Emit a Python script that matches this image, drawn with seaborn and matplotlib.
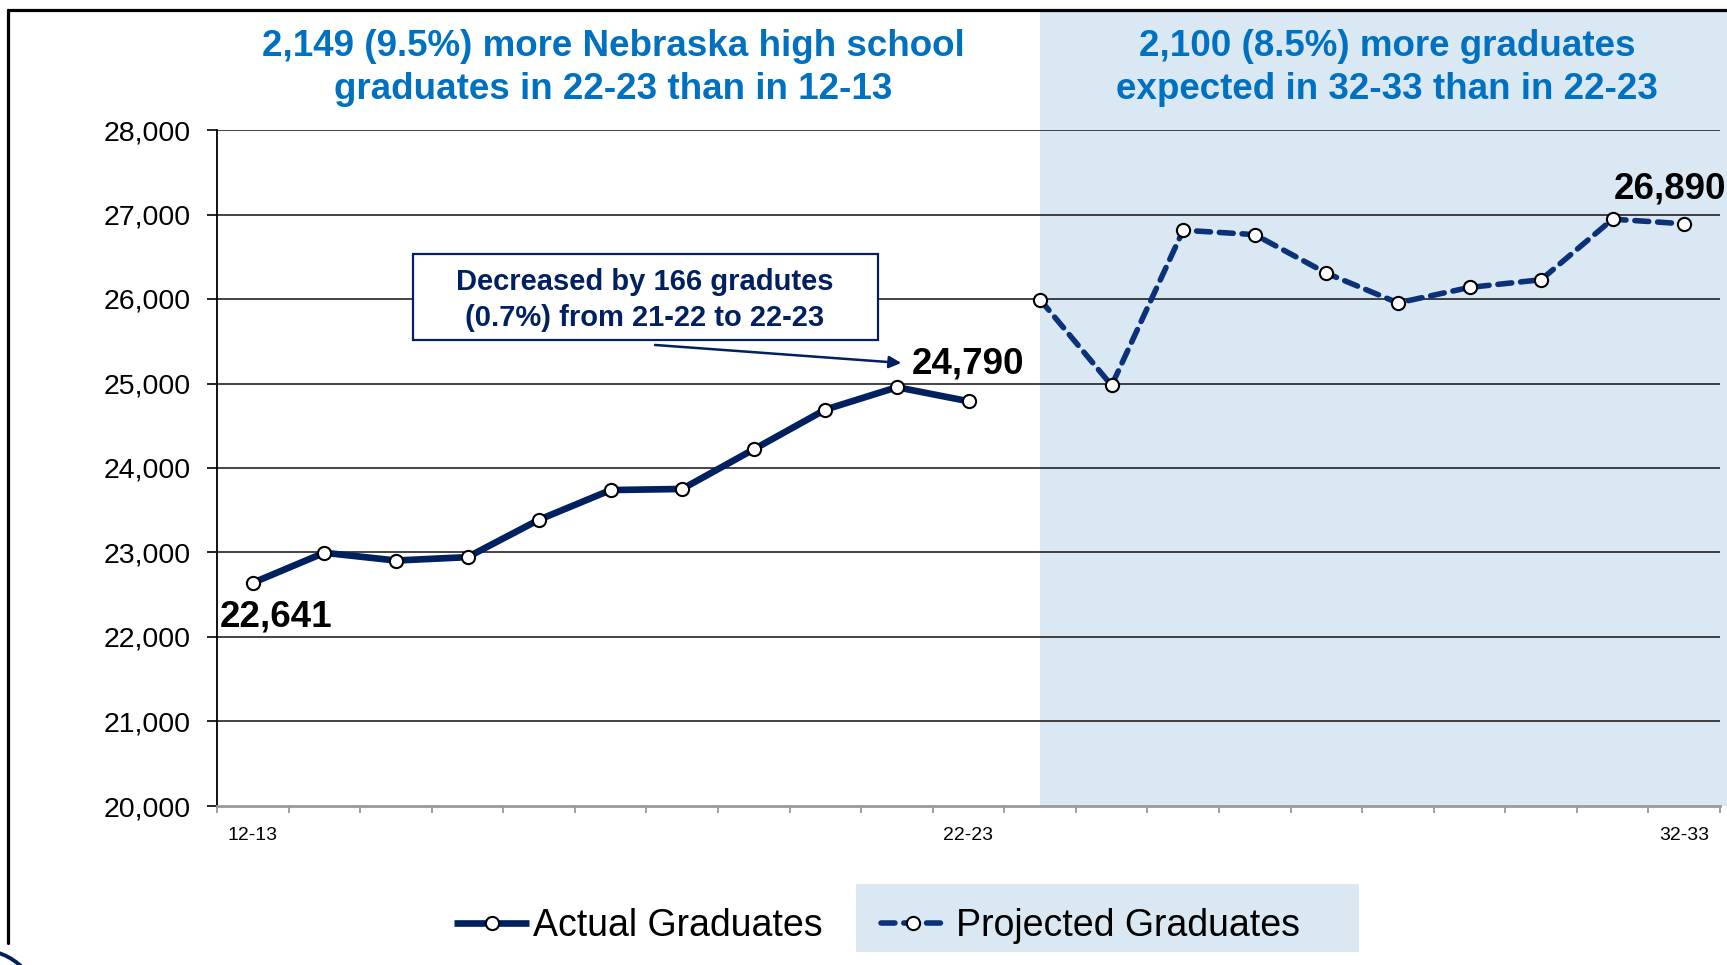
import numpy as np
import pandas as pd
import matplotlib
matplotlib.use("Agg")
import matplotlib.pyplot as plt
from matplotlib.patches import Rectangle, Ellipse
from matplotlib.lines import Line2D
import seaborn as sns

# ---------------- data ----------------
seasons = ["12-13", "13-14", "14-15", "15-16", "16-17", "17-18", "18-19", "19-20",
           "20-21", "21-22", "22-23", "23-24", "24-25", "25-26", "26-27", "27-28",
           "28-29", "29-30", "30-31", "31-32", "32-33"]
actual_grads = [22641, 22997, 22905, 22945, 23388, 23739, 23752, 24221, 24691, 24956, 24790]
projected_grads = [25993, 24977, 26814, 26762, 26306, 25954, 26137, 26228, 26945, 26890]
shown_ticks = ["12-13", "22-23", "32-33"]
y_ticks = [20000, 21000, 22000, 23000, 24000, 25000, 26000, 27000, 28000]

W, H = 1727, 965
NAVY = "#002060"
PNAVY = "#0B3279"
SHADE = "#DAE8F3"
TBLUE = "#0070C0"

sns.set_style("white")
plt.rcParams["font.family"] = ["Liberation Sans", "DejaVu Sans"]
plt.rcParams["text.color"] = "black"
plt.rcParams["xtick.labelcolor"] = "black"
plt.rcParams["ytick.labelcolor"] = "black"
plt.rcParams["legend.labelcolor"] = "black"

fig = plt.figure(figsize=(W / 100, H / 100), dpi=100)
fig.patch.set_facecolor("white")
ax = fig.add_axes([217 / W, 1 - 806 / H, (1720 - 217) / W, (806 - 130) / H])
ax.set_facecolor("none")

df_a = pd.DataFrame({"x": np.arange(len(actual_grads)), "y": actual_grads})
df_p = pd.DataFrame({"x": np.arange(len(actual_grads), len(actual_grads) + len(projected_grads)),
                     "y": projected_grads})

sns.lineplot(data=df_a, x="x", y="y", ax=ax, color=NAVY, lw=4.8, marker="o",
             markersize=9.5, markerfacecolor="white", markeredgecolor="black",
             markeredgewidth=1.5, label="Actual Graduates", legend=False,
             solid_capstyle="butt", zorder=5)
sns.lineplot(data=df_p, x="x", y="y", ax=ax, color=PNAVY, lw=4.0, marker="o",
             markersize=9.5, markerfacecolor="white", markeredgecolor="black",
             markeredgewidth=1.5, linestyle=(0, (2.5, 1.6)), label="Projected Graduates",
             legend=False, dash_capstyle="round", zorder=5)

ax.set_xlim(-0.5, len(seasons) - 0.5)
ax.set_ylim(20000, 28000)
ax.set_xlabel("")
ax.set_ylabel("")

# y axis
ax.set_yticks(y_ticks)
ax.set_yticklabels([f"{v:,}" for v in y_ticks], fontsize=20.5, color="black")
ax.tick_params(axis="y", direction="out", length=7, width=1.2, color="black", pad=12, left=True)
for v in y_ticks[1:]:
    ax.axhline(v, color="#111111", lw=1.1, zorder=1)

# x axis
major_pos = [seasons.index(s) for s in shown_ticks]
ax.set_xticks(major_pos)
ax.set_xticklabels(shown_ticks, fontsize=14, color="black")
ax.set_xticks(np.arange(-0.5, len(seasons), 1.0), minor=True)
ax.tick_params(axis="x", which="major", length=0, pad=15)
ax.tick_params(axis="x", which="minor", direction="out", length=5, width=1.3, color="#9a9a9a", bottom=True)

for s in ["top", "right"]:
    ax.spines[s].set_visible(False)
ax.spines["left"].set_color("black")
ax.spines["left"].set_linewidth(1.3)
ax.spines["bottom"].set_color("#9a9a9a")
ax.spines["bottom"].set_linewidth(2.0)
ax.grid(False)

# shaded projection region (extends above the axes to the top border)
fig.canvas.draw()
x0_fig = fig.transFigure.inverted().transform(ax.transData.transform((len(actual_grads), 20000)))
fig.patches.append(Rectangle((x0_fig[0], x0_fig[1]), 1 - x0_fig[0], (1 - 12 / H) - x0_fig[1],
                             transform=fig.transFigure, facecolor=SHADE, edgecolor="none", zorder=-2))

# outer border lines and logo arc
fig.lines.append(Line2D([8 / W, 1], [1 - 10 / H, 1 - 10 / H], transform=fig.transFigure,
                        color="black", lw=2.3, zorder=3))
fig.lines.append(Line2D([8 / W, 8 / W], [1 - 10 / H, 1 - 943 / H], transform=fig.transFigure,
                        color="black", lw=2.3, zorder=3))
fig.patches.append(Ellipse((-20 / W, 1 - 1010 / H), 120 / W, 120 / H, transform=fig.transFigure,
                           facecolor="none", edgecolor=NAVY, lw=2.8, zorder=3))

# headline texts
fig.text(613 / W, 1 - 68 / H, "2,149 (9.5%) more Nebraska high school\ngraduates in 22-23 than in 12-13",
         ha="center", va="center", fontsize=26.5, fontweight="bold", color=TBLUE, linespacing=1.33)
fig.text(1387 / W, 1 - 68 / H, "2,100 (8.5%) more graduates\nexpected in 32-33 than in 22-23",
         ha="center", va="center", fontsize=26.5, fontweight="bold", color=TBLUE, linespacing=1.33)

# value labels
ax.text(-0.46, 22237, f"{actual_grads[0]:,}", ha="left", va="center", fontsize=26.5,
        fontweight="bold", color="black")
ax.text(9.21, 25225, f"{actual_grads[-1]:,}", ha="left", va="center", fontsize=26.5,
        fontweight="bold", color="black")
ax.text(19.02, 27305, f"{projected_grads[-1]:,}", ha="left", va="center", fontsize=26.5,
        fontweight="bold", color="black", clip_on=False)

# annotation box with arrow
fig.patches.append(Rectangle((413 / W, 1 - 340 / H), (878 - 413) / W, (340 - 254) / H,
                             transform=fig.transFigure, facecolor="white", edgecolor=NAVY,
                             lw=1.6, zorder=4))
fig.text(645 / W, 1 - 300 / H, "Decreased by 166 gradutes\n(0.7%) from 21-22 to 22-23",
         ha="center", va="center", fontsize=21, fontweight="bold", color=NAVY,
         linespacing=1.4, zorder=5)
ax.annotate("", xy=(9.06, 25243), xytext=(5.62, 25456),
            arrowprops=dict(arrowstyle="-|>", color=NAVY, lw=1.8, mutation_scale=18,
                            shrinkA=0, shrinkB=0), zorder=6)

# legend
fig.patches.append(Rectangle((856 / W, 1 - 952 / H), (1359 - 856) / W, (952 - 884) / H,
                             transform=fig.transFigure, facecolor=SHADE, edgecolor="none", zorder=-1))
lines = ax.get_lines()
h_act = [l for l in lines if l.get_label() == "Actual Graduates"]
h_proj = [l for l in lines if l.get_label() == "Projected Graduates"]
leg1 = fig.legend(handles=h_act, loc="center left", bbox_to_anchor=(454 / W, 1 - 926 / H),
                  frameon=False, fontsize=27, handlelength=2.0, handletextpad=0.1,
                  borderpad=0, borderaxespad=0, labelcolor="black")
leg2 = fig.legend(handles=h_proj, loc="center left", bbox_to_anchor=(881 / W, 1 - 926 / H),
                  frameon=False, fontsize=27, handlelength=1.7, handletextpad=0.3,
                  borderpad=0, borderaxespad=0, labelcolor="black")

fig.savefig("out.png", dpi=100)
